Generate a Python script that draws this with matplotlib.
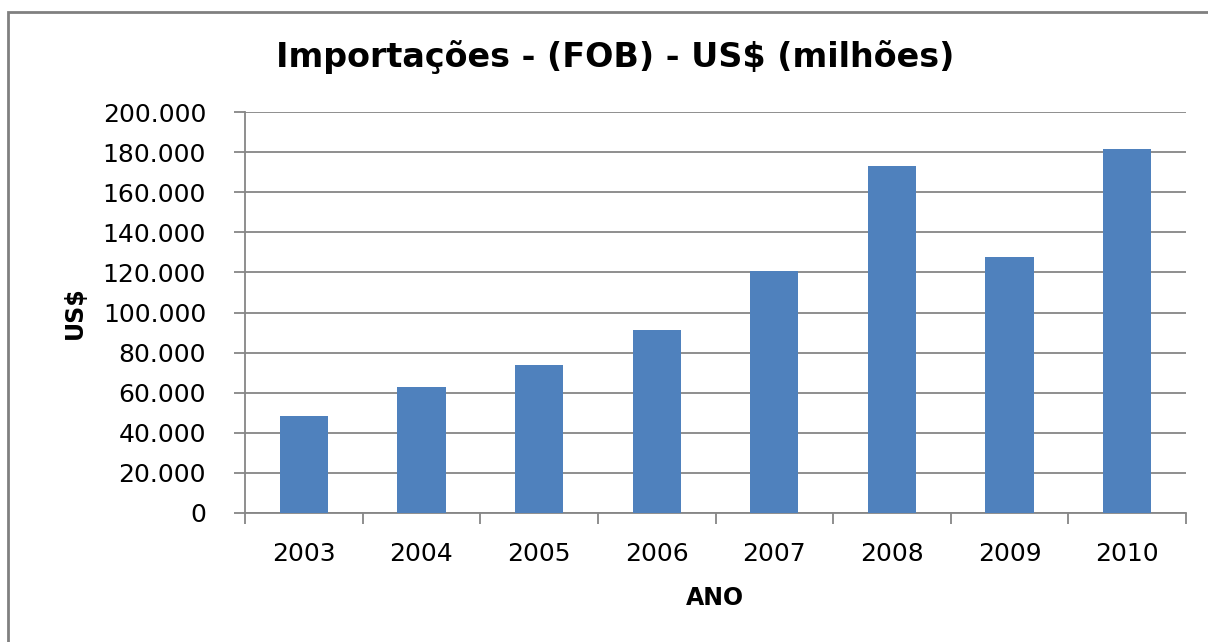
import matplotlib
matplotlib.use("Agg")
import matplotlib.pyplot as plt
from matplotlib.patches import Rectangle
from matplotlib.ticker import FuncFormatter, FixedLocator

years = ["2003", "2004", "2005", "2006", "2007", "2008", "2009", "2010"]
imports = [48300, 62800, 73600, 91400, 120600, 173000, 127700, 181600]
yticks = [0, 20000, 40000, 60000, 80000, 100000, 120000, 140000, 160000, 180000, 200000]

title = "Importações - (FOB) - US$ (milhões)"
xlabel = "ANO"
ylabel = "US$"

bar_color = "#4F81BD"
grid_color = "#868686"

fig = plt.figure(figsize=(12.08, 6.42), dpi=100)
fig.patch.set_facecolor("white")
ax = fig.add_axes([245/1208, 1-513/642, (1186-245)/1208, (513-112)/642])

x = list(range(len(years)))
ax.bar(x, imports, width=0.41, color=bar_color, zorder=3)

ax.set_xlim(-0.5, len(years)-0.5)
ax.set_ylim(0, 200000)
ax.set_yticks(yticks)
ax.yaxis.set_major_formatter(FuncFormatter(lambda v, p: f"{int(v):,}".replace(",", ".")))
ax.set_xticks(x)
ax.set_xticklabels(years)
ax.xaxis.set_minor_locator(FixedLocator([i - 0.5 for i in range(len(years)+1)]))
ax.tick_params(axis="x", which="major", length=0, pad=21, labelsize=18)
ax.tick_params(axis="x", which="minor", length=8, width=1.3, color=grid_color)
ax.tick_params(axis="y", which="major", length=8, width=1.3, color=grid_color, pad=20, labelsize=18)

ax.grid(axis="y", color=grid_color, linewidth=1.3, zorder=0)
for s in ["top", "right"]:
    ax.spines[s].set_visible(False)
for s in ["left", "bottom"]:
    ax.spines[s].set_color(grid_color)
    ax.spines[s].set_linewidth(1.3)

fig.text(615/1208, 1-57/642, title, ha="center", va="center", fontsize=24, fontweight="bold")
fig.text(715/1208, 1-598/642, xlabel, ha="center", va="center", fontsize=17, fontweight="bold")
fig.text(75/1208, 1-313/642, ylabel, ha="center", va="center", fontsize=17, fontweight="bold", rotation=90)

fig.patches.append(Rectangle((8/1208, -0.05), 1.1, 1.05 - 12/642, transform=fig.transFigure,
                             fill=False, edgecolor="#808080", linewidth=2))

fig.savefig("out.png", dpi=100)
